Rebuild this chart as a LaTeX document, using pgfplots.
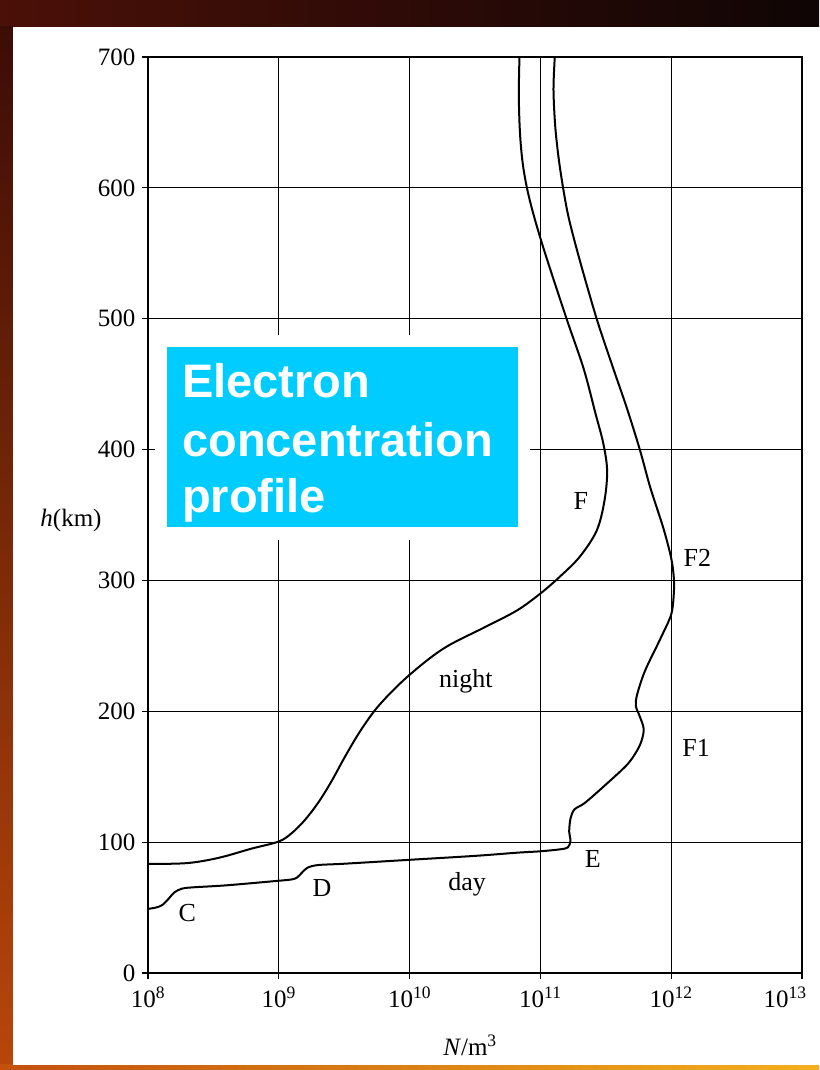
\documentclass[border=0pt]{standalone}
\usepackage{fontspec}
\setmainfont{Liberation Serif}
\newfontfamily\boxfont{Liberation Sans}
\usepackage{pgfplots}
\pgfplotsset{compat=1.18}
\definecolor{bgdark}{RGB}{45,10,6}
\definecolor{bgtopL}{RGB}{75,16,8}
\definecolor{bgtopR}{RGB}{15,5,5}
\definecolor{leftT}{RGB}{60,12,6}
\definecolor{leftB}{RGB}{185,70,10}
\definecolor{botL}{RGB}{195,80,12}
\definecolor{botR}{RGB}{245,175,30}
\definecolor{boxcyan}{RGB}{0,204,255}
\begin{document}
\begin{tikzpicture}
% background
\fill[bgdark] (0pt,0pt) rectangle (819pt,1070pt);
\shade[left color=bgtopL, right color=bgtopR] (0pt,1043pt) rectangle (819pt,1070pt);
\shade[top color=leftT, bottom color=leftB] (0pt,0pt) rectangle (13pt,1043pt);
\shade[left color=botL, right color=botR] (0pt,0pt) rectangle (819pt,5pt);
\fill[white] (13pt,5pt) rectangle (819pt,1043pt);

\begin{axis}[
  at={(148pt,97pt)}, anchor=south west,
  scale only axis, width=654pt, height=916pt,
  xmin=8, xmax=13, ymin=0, ymax=700,
  xtick={8,9,10,11,12,13},
  xticklabels={10\textsuperscript{8},10\textsuperscript{9},10\textsuperscript{10},10\textsuperscript{11},10\textsuperscript{12},\hspace*{-34pt}10\textsuperscript{13}},
  ytick={0,100,200,300,400,500,600,700},
  yticklabels={0,100,200,300,400,500,600,700},
  grid=major,
  major grid style={black, line width=1.1pt},
  axis line style={black, line width=1.4pt},
  tick pos=left, tick align=outside, major tick length=6pt,
  tick style={black, line width=1.1pt},
  ticklabel style={font=\fontsize{25}{25}\selectfont},
  xticklabel style={yshift=-4pt},
  yticklabel style={xshift=-3pt},
]
% day profile
\addplot[black, line width=2pt, smooth, tension=0.5] coordinates {
(8.00,49) (8.06,50) (8.11,52) (8.16,57) (8.20,61.5) (8.26,64.5) (8.35,65.5)
(8.6,67) (9.0,70.5) (9.10,71.5) (9.14,73) (9.18,77) (9.22,80.5) (9.30,82.5)
(9.5,83.5) (10.0,86.5) (10.5,89.5) (10.83,92) (11.0,93) (11.15,94.5) (11.21,96)
(11.23,101) (11.22,108) (11.23,118) (11.26,125) (11.34,130) (11.50,144)
(11.67,160) (11.76,174) (11.79,186) (11.76,196) (11.73,204) (11.74,213)
(11.80,231) (11.92,256) (12.0,274) (12.02,290) (12.02,302) (12.0,317)
(11.94,340) (11.84,371) (11.76,400) (11.66,432) (11.55,464) (11.43,500)
(11.30,545) (11.21,580) (11.15,615) (11.115,645) (11.10,675) (11.11,700)
};
% night profile
\addplot[black, line width=2pt, smooth, tension=0.55] coordinates {
(8.0,83.3) (8.3,84) (8.54,88) (8.79,95) (9.0,100.5) (9.1,107) (9.2,117)
(9.3,130) (9.4,146) (9.51,166) (9.63,186) (9.77,205) (9.99,227) (10.26,248)
(10.57,264) (10.82,277) (11.0,290) (11.15,303) (11.30,318)
(11.43,338) (11.49,361) (11.51,384) (11.48,405) (11.42,428) (11.33,462)
(11.20,500) (11.02,555) (10.92,590) (10.87,615) (10.845,640) (10.835,670) (10.84,700)
};
\node[font=\fontsize{26}{26}\selectfont] at (axis cs:8.30,46) {C};
\node[font=\fontsize{26}{26}\selectfont] at (axis cs:9.33,65) {D};
\node[font=\fontsize{26}{26}\selectfont] at (axis cs:10.44,68) {day};
\node[font=\fontsize{26}{26}\selectfont] at (axis cs:11.40,87) {E};
\node[font=\fontsize{26}{26}\selectfont] at (axis cs:12.19,172) {F1};
\node[font=\fontsize{26}{26}\selectfont] at (axis cs:12.20,317) {F2};
\node[font=\fontsize{26}{26}\selectfont] at (axis cs:11.31,361) {F};
\node[font=\fontsize{26}{26}\selectfont] at (axis cs:10.43,223) {night};
\end{axis}

\node[font=\fontsize{25}{25}\selectfont] at (71pt,550pt) {\textit{h}(km)};
\node[font=\fontsize{25}{25}\selectfont] at (470pt,25pt) {\textit{N}/m\textsuperscript{3}};

% title box
\fill[white] (155pt,530pt) rectangle (530pt,735pt);
\fill[boxcyan] (167pt,543pt) rectangle (518pt,723pt);
\node[anchor=base west, inner sep=0pt, text=white, font=\boxfont\bfseries\fontsize{47}{47}\selectfont] at (182pt,672pt) {Electron};
\node[anchor=base west, inner sep=0pt, text=white, font=\boxfont\bfseries\fontsize{47}{47}\selectfont] at (182pt,613pt) {concentration};
\node[anchor=base west, inner sep=0pt, text=white, font=\boxfont\bfseries\fontsize{47}{47}\selectfont] at (182pt,557pt) {profile};

\pgfresetboundingbox
\useasboundingbox (0pt,0pt) rectangle (819pt,1070pt);
\end{tikzpicture}
\end{document}
